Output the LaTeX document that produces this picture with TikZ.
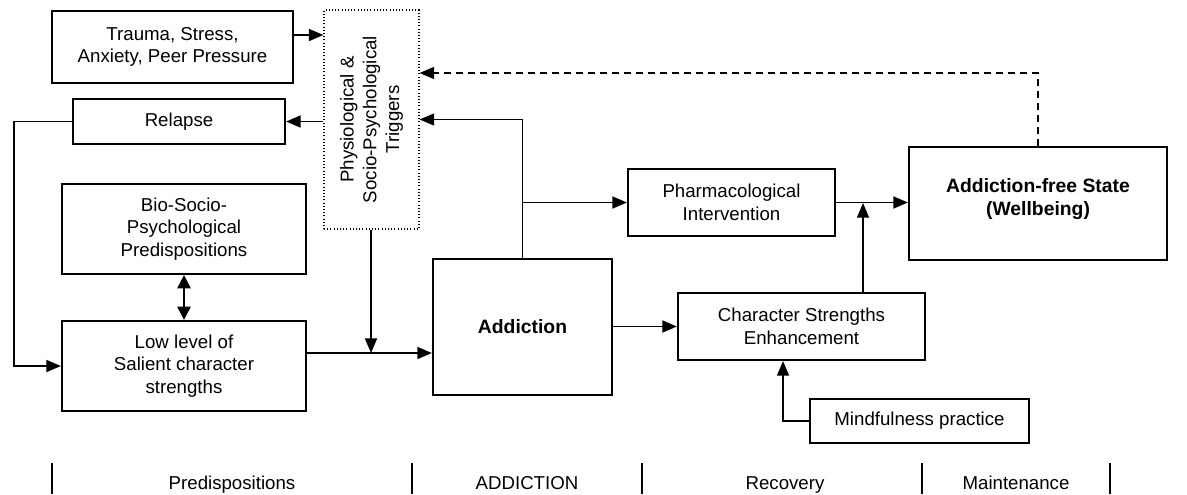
\documentclass[tikz,border=0pt]{standalone}
\usepackage{fontspec}
\setmainfont{Liberation Sans}
\usetikzlibrary{arrows.meta}
\begin{document}
\begin{tikzpicture}[x=0.75pt,y=-0.75pt,
  font=\fontsize{14}{17}\selectfont,
  box/.style={draw, line width=1.6pt, align=center, inner sep=2pt},
  trigbox/.style={draw, line width=0.8pt, dash pattern=on 0.8pt off 1.6pt, inner sep=0pt},
  arr/.style={line width=1.4pt, -{Triangle[length=11pt,width=9pt]}},
  arrthin/.style={line width=1pt, -{Triangle[length=11pt,width=9pt]}},
  dbl/.style={line width=1.4pt, {Triangle[length=10pt,width=10pt]}-{Triangle[length=10pt,width=10pt]}},
  dsh/.style={line width=1.3pt, dash pattern=on 5pt off 4pt, -{Triangle[length=11pt,width=9pt]}},
  bar/.style={line width=1.6pt},
  phase/.style={inner sep=0pt, anchor=base}
]
\useasboundingbox (0,0) rectangle (1187,494);

% boxes
\node[box, minimum width=180.75pt, minimum height=54pt] (trauma) at (172.5,47) {Trauma, Stress,\\Anxiety, Peer Pressure};
\node[trigbox, minimum width=71.25pt, minimum height=164.25pt] (trig) at (371.5,119.5) {};
\node[rotate=90, align=center, inner sep=0pt] (trigtext) at (trig.center) {Physiological \&\\Socio-Psychological\\Triggers};
\node[box, minimum width=159pt, minimum height=33.75pt] (relapse) at (179,121.5) {Relapse};
\node[box, minimum width=183pt, minimum height=67.5pt] (bio) at (184,229) {Bio-Socio-\\Psychological\\Predispositions};
\node[box, minimum width=183pt, minimum height=67.5pt] (low) at (184,366) {Low level of\\Salient character\\strengths};
\node[box, minimum width=134.25pt, minimum height=102pt, font=\fontsize{14.5}{17}\selectfont\bfseries] (add) at (522.5,327) {Addiction};
\node[box, minimum width=155.25pt, minimum height=50.25pt] (pharm) at (731.5,202.5) {Pharmacological\\Intervention};
\node[box, minimum width=193.5pt, minimum height=84.75pt] (afs) at (1038,203.5) {};
\node[align=center, inner sep=0pt, font=\fontsize{14.5}{17}\selectfont\bfseries] (afstext) at (1038,199) {Addiction-free State\\(Wellbeing)};
\node[box, minimum width=185.25pt, minimum height=50.25pt] (cse) at (801.5,326.5) {Character Strengths\\Enhancement};
\node[box, minimum width=164.25pt, minimum height=33pt] (mind) at (919.5,421) {Mindfulness practice};

% helper coordinates
\coordinate (ytr) at (0,35);
\coordinate (lx) at (14,0);
\coordinate (j1) at (371,353);
\coordinate (jv) at (863,203);
\coordinate (mx) at (783,0);
\coordinate (yd) at (0,73);

% connectors
\draw[arr] (trauma.east |- ytr) -- (trig.west |- ytr);
\draw[arr] (trig.west |- relapse.east) -- (relapse.east);
\draw[arr] (relapse.west) -- (relapse.west -| lx) -- (lx |- low.west) -- (low.west);
\draw[dbl] (bio.south) -- (low.north);
\draw[arr] (low.east |- j1) -- (add.west |- j1);
\draw[arr] (trig.south -| j1) -- (j1);
\draw[arrthin] (add.north) |- (trig.east);
\draw[arr] (add.north |- pharm.west) -- (pharm.west);
\draw[arr] (pharm.east) -- (afs.west |- pharm.east);
\draw[arrthin] (cse.north -| jv) -- (jv);
\draw[arr] (add.east |- cse.west) -- (cse.west);
\draw[arr] (mind.west) -- (mind.west -| mx) -- (mx |- cse.south);
\draw[dsh] (afs.north) -- (afs.north |- yd) -- (trig.east |- yd);

% phase bars
\draw[bar] (52,463) -- (52,494);
\draw[bar] (412,463) -- (412,494);
\draw[bar] (642,463) -- (642,494);
\draw[bar] (922,463) -- (922,494);
\draw[bar] (1110,463) -- (1110,494);
\node[phase] (p1) at (232,489) {Predispositions};
\node[phase] (p2) at (527,489) {ADDICTION};
\node[phase] (p3) at (785,489) {Recovery};
\node[phase] (p4) at (1016,489) {Maintenance};
\end{tikzpicture}
\end{document}
